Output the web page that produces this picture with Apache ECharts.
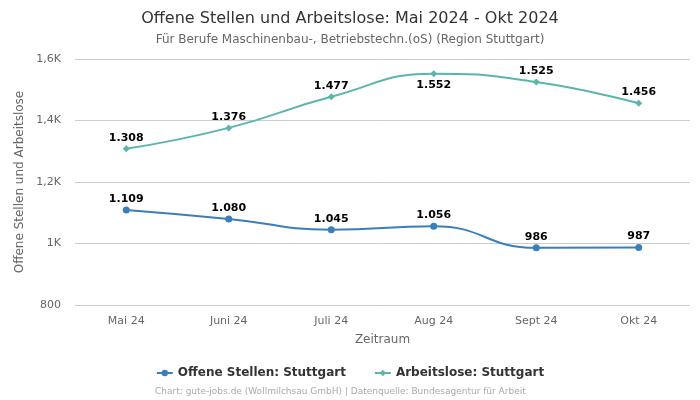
<!DOCTYPE html>
<html><head><meta charset="utf-8">
<script src="https://cdn.jsdelivr.net/npm/echarts@6/dist/echarts.min.js"></script>
<style>html,body{margin:0;padding:0;background:#fff}#c{width:700px;height:400px}</style>
</head><body><div id="c"></div>
<script>
var categories = ['Mai 24','Juni 24','Juli 24','Aug 24','Sept 24','Okt 24'];
var offeneStellen = [1109, 1080, 1045, 1056, 986, 987];
var arbeitslose = [1308, 1376, 1477, 1552, 1525, 1456];
var yTicks = [800, 1000, 1200, 1400, 1600];

function fmtNum(v){ return String(v).replace(/\B(?=(\d{3})+(?!\d))/g,'.'); }
function fmtAxis(v){ if (v >= 1000) { return String(v/1000).replace('.',',') + 'K'; } return String(v); }

var font = 'DejaVu Sans';
var chart = echarts.init(document.getElementById('c'), null, {renderer:'canvas'});
chart.setOption({
  animation:false,
  textStyle:{fontFamily:font},
  title:{
    text:'Offene Stellen und Arbeitslose: Mai 2024 - Okt 2024',
    subtext:'Für Berufe Maschinenbau-, Betriebstechn.(oS) (Region Stuttgart)',
    left:'center', top:6, itemGap:7,
    textStyle:{fontFamily:font,fontSize:16,fontWeight:'normal',color:'#333'},
    subtextStyle:{fontFamily:font,fontSize:12,color:'#666'}
  },
  legend:{
    bottom:16, left:'center', itemGap:28, itemWidth:16, itemHeight:8,
    textStyle:{fontFamily:font,fontSize:12,fontWeight:'bold',color:'#333'},
    data:['Offene Stellen: Stuttgart','Arbeitslose: Stuttgart']
  },
  graphic:[{type:'text',left:155,bottom:4,style:{text:'Chart: gute-jobs.de (Wollmilchsau GmbH) | Datenquelle: Bundesagentur für Arbeit',fontFamily:font,fontSize:9,fill:'#aaa'}}],
  grid:{left:75,right:10,top:59,bottom:95},
  xAxis:{
    type:'category', data:categories, boundaryGap:true,
    name:'Zeitraum', nameLocation:'middle', nameGap:29,
    nameTextStyle:{fontFamily:font,fontSize:12,color:'#666'},
    axisLine:{show:false}, axisTick:{show:false},
    axisLabel:{fontFamily:font,fontSize:11,color:'#666',margin:11}
  },
  yAxis:{
    type:'value', min:yTicks[0], max:yTicks[yTicks.length-1], interval:200,
    name:'Offene Stellen und Arbeitslose', nameLocation:'middle', nameGap:46,
    nameTextStyle:{fontFamily:font,fontSize:12,color:'#666'},
    axisLabel:{fontFamily:font,fontSize:11,color:'#666',formatter:fmtAxis,margin:14},
    splitLine:{lineStyle:{color:'#ccc'}}
  },
  series:[
    {
      name:'Offene Stellen: Stuttgart', type:'line', smooth:true,
      data:offeneStellen, symbol:'circle', symbolSize:7,
      itemStyle:{color:'#3a7fba'}, lineStyle:{width:2,color:'#3a7fba'},
      label:{show:true,position:'top',distance:2,formatter:function(p){return fmtNum(p.value);},fontFamily:font,fontSize:11,fontWeight:'bold',color:'#000'}
    },
    {
      name:'Arbeitslose: Stuttgart', type:'line', smooth:true,
      data:arbeitslose.map(function(v,i){ return i===3 ? {value:v,label:{position:'bottom',distance:2}} : v; }),
      symbol:'diamond', symbolSize:7,
      itemStyle:{color:'#5ab5ad'}, lineStyle:{width:2,color:'#5ab5ad'},
      label:{show:true,position:'top',distance:2,formatter:function(p){return fmtNum(p.value);},fontFamily:font,fontSize:11,fontWeight:'bold',color:'#000'}
    }
  ]
});
</script></body></html>
